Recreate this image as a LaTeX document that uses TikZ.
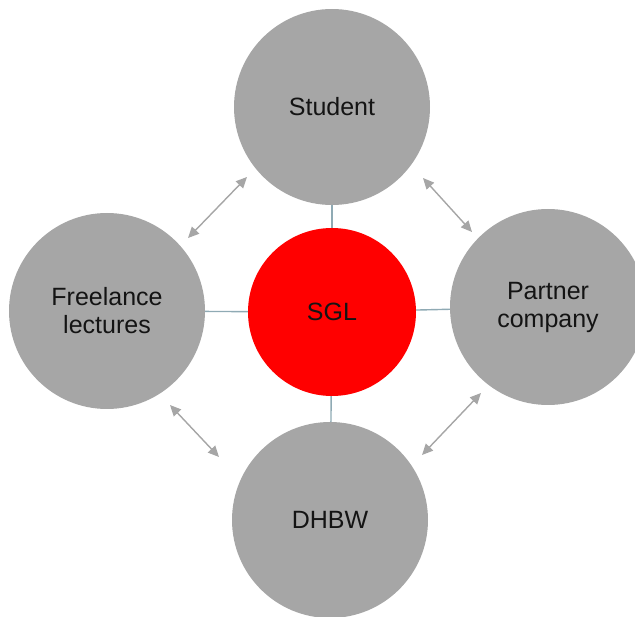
\documentclass[tikz,border=0pt]{standalone}
\usepackage{fontspec}
\setmainfont{Liberation Sans}
\usepackage{tikz}
\usetikzlibrary{arrows.meta}
\definecolor{partygray}{RGB}{166,166,166}
\definecolor{sglred}{RGB}{255,0,0}
\definecolor{linkblue}{RGB}{143,170,180}
\definecolor{labelblack}{RGB}{20,20,20}

\begin{document}
\begin{tikzpicture}[x=1pt, y=-1pt,
    party/.style={circle, fill=partygray, draw=none, minimum size=196pt,
                  inner sep=0pt, align=center, text=labelblack,
                  font=\fontsize{25}{28}\selectfont},
    link/.style={draw=linkblue, line width=1.4pt},
    twoway/.style={{Triangle[length=11pt,width=10pt]}-{Triangle[length=11pt,width=10pt]},
                   draw=partygray, fill=partygray, line width=1.4pt}]

\useasboundingbox (0,0) rectangle (635,617);

% Parties
\node[party] (student)   at (332,107) {Student};
\node[party] (freelance) at (107,311) {Freelance\\lectures};
\node[party] (partner)   at (548,307) {Partner\\company};
\node[party] (dhbw)      at (330,520) {DHBW};

% Centre
\node[party, fill=sglred, minimum size=168pt] (sgl) at (332,312) {SGL};

% Links to the centre
\draw[link] (sgl) -- (student);
\draw[link] (sgl) -- (freelance);
\draw[link] (sgl) -- (partner);
\draw[link] (sgl) -- (dhbw);

% Arrow ends
\coordinate (sf-a) at (247,177);
\coordinate (sf-b) at (188,238);
\coordinate (sp-a) at (423,178);
\coordinate (sp-b) at (472,232);
\coordinate (fd-a) at (170,405);
\coordinate (fd-b) at (219,457);
\coordinate (pd-a) at (481,393);
\coordinate (pd-b) at (422,455);

% Arrows between the parties
\draw[twoway] (sf-a) -- (sf-b);
\draw[twoway] (sp-a) -- (sp-b);
\draw[twoway] (fd-a) -- (fd-b);
\draw[twoway] (pd-a) -- (pd-b);

\end{tikzpicture}
\end{document}
